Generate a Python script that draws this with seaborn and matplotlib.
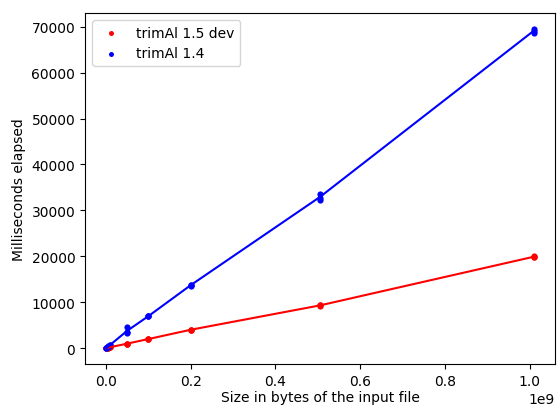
import numpy as np
import pandas as pd
import seaborn as sns
import matplotlib.pyplot as plt

# repeated timings (ms) for each input size (bytes)
sizes_dev = [1.0e6, 1.0e6, 5.0e6, 5.0e6, 1.0e7, 1.0e7,
             5.0e7, 5.0e7, 5.0e7, 1.0e8, 1.0e8, 1.0e8,
             2.0e8, 2.0e8, 2.0e8, 5.05e8, 5.05e8, 5.05e8,
             1.01e9, 1.01e9, 1.01e9]
times_dev = [20, 22, 100, 105, 200, 210,
             950, 1000, 980, 1950, 2000, 1980,
             3950, 4000, 4050, 9250, 9300, 9350,
             19800, 19900, 20000]

sizes_14 = [1.0e6, 1.0e6, 5.0e6, 5.0e6, 1.0e7, 1.0e7,
            5.0e7, 5.0e7, 5.0e7, 1.0e8, 1.0e8, 1.0e8,
            2.0e8, 2.0e8, 2.0e8, 5.05e8, 5.05e8, 5.05e8,
            1.01e9, 1.01e9, 1.01e9]
times_14 = [70, 75, 350, 360, 700, 720,
            3300, 3500, 4500, 6900, 7000, 6950,
            13600, 13800, 13700, 32300, 32800, 33600,
            68700, 69100, 69500]


def main():
    df_dev = pd.DataFrame({"size": sizes_dev, "ms": times_dev})
    df_14 = pd.DataFrame({"size": sizes_14, "ms": times_14})

    fig = plt.figure(figsize=(5.57, 4.06), dpi=100)
    ax = fig.add_axes([0.1526, 0.101, 0.844, 0.8645])

    for df, color, label in [(df_dev, "red", "trimAl 1.5 dev"), (df_14, "blue", "trimAl 1.4")]:
        # line through the mean of each size
        sns.lineplot(data=df, x="size", y="ms", ax=ax, errorbar=None, color=color,
                     lw=1.5, legend=False)
        sns.scatterplot(data=df, x="size", y="ms", ax=ax, color=color, s=20,
                        linewidth=0, label=label)

    ax.set_xlabel("Size in bytes of the input file", labelpad=2)
    ax.set_ylabel("Milliseconds elapsed")
    ax.set_yticks(np.arange(0, 70001, 10000))
    ax.legend(loc="upper left", markerscale=0.8)

    fig.savefig("out.png", dpi=100)


if __name__ == "__main__":
    main()
